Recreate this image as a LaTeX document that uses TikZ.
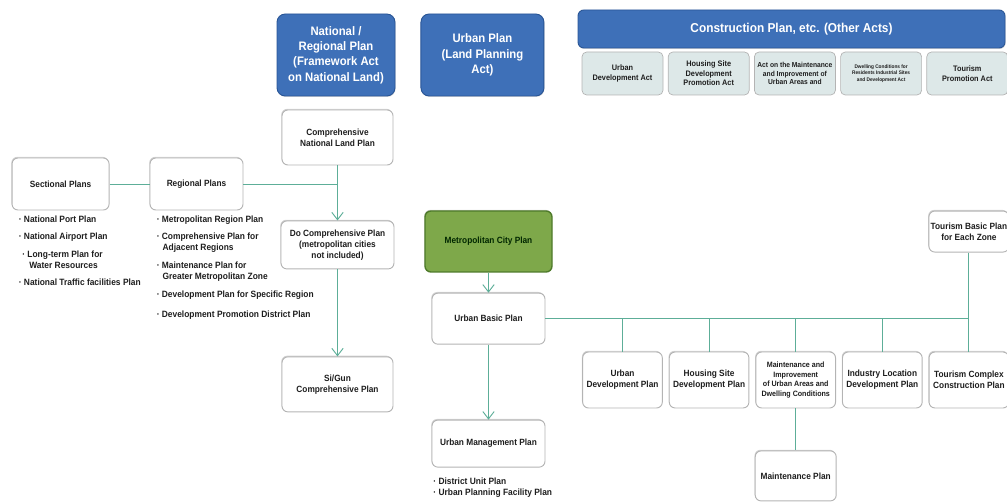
\documentclass[tikz,border=0pt]{standalone}
\usepackage{fontspec}
\setmainfont{Liberation Sans}[FakeStretch=0.92]
\usetikzlibrary{arrows.meta, positioning, shadows, calc}
\definecolor{actblue}{HTML}{3E70B8}
\definecolor{actblueedge}{HTML}{2A5696}
\definecolor{metrogreen}{HTML}{7EA84A}
\definecolor{metroedge}{HTML}{4E7A2A}
\definecolor{linkteal}{HTML}{5DAE98}
\definecolor{boxedge}{HTML}{B4B4B4}
\definecolor{actfill}{HTML}{DDE8E8}
\definecolor{darktext}{HTML}{1E1E1E}

\begin{document}
\begin{tikzpicture}[
    >={Straight Barb[length=2.2mm,width=3.4mm]},
    % --- node styles ---
    lawhead/.style={
        rectangle, rounded corners=7pt, minimum height=2.46cm,
        text centered, align=center, draw=actblueedge, line width=0.8pt,
        fill=actblue, text=white, font=\bfseries\fontsize{10.5}{13}\selectfont,
        drop shadow={shadow xshift=0.5pt, shadow yshift=-0.8pt, opacity=.3}
    },
    actbox/.style={
        rectangle, rounded corners=4pt, minimum width=2.43cm, minimum height=1.29cm,
        text centered, align=center, draw=boxedge, line width=0.6pt,
        fill=actfill, text=darktext, font=\bfseries\fontsize{6.8}{8}\selectfont, inner sep=1pt
    },
    planbox/.style={
        rectangle, rounded corners=5pt, text centered, align=center,
        draw=boxedge, line width=0.8pt, fill=white, text=darktext,
        font=\bfseries\fontsize{7.7}{9.2}\selectfont, inner sep=1pt,
        drop shadow={shadow xshift=-0.6pt, shadow yshift=1pt, opacity=.35}
    },
    rowbox/.style={planbox, minimum width=2.39cm, minimum height=1.68cm},
    itemlist/.style={
        anchor=north west, align=left, inner sep=0pt, text=darktext,
        font=\bfseries\fontsize{7.8}{9.4}\selectfont
    },
    link/.style={draw=linkteal, line width=0.8pt},
    arrow/.style={link, ->},
]
\useasboundingbox (0,0) rectangle (30.21,15.06);

% ===== ACTS =====
\node[lawhead, minimum width=3.54cm] (natreg) at (10.08,13.41)
    {National /\\Regional Plan\\(Framework Act\\on National Land)};
\node[lawhead, minimum width=3.69cm, right=0.75cm of natreg] (urbanplan)
    {Urban Plan\\(Land Planning\\Act)};

\node[lawhead, minimum width=12.81cm, minimum height=1.14cm, rounded corners=5pt,
    font=\bfseries\fontsize{11}{13}\selectfont] (construct) at (23.745,14.19)
    {Construction Plan, etc. (Other Acts)};

\node[actbox] (act1) at (18.675,12.855) {Urban\\Development Act};
\node[actbox, right=0.135cm of act1] (act2) {Housing Site\\Development\\Promotion Act};
\node[actbox, right=0.135cm of act2, font=\bfseries\fontsize{6.2}{7.6}\selectfont] (act3)
    {Act on the Maintenance\\and Improvement of\\Urban Areas and};
\node[actbox, right=0.135cm of act3, font=\bfseries\fontsize{4.4}{5.4}\selectfont] (act4)
    {Dwelling Conditions for\\Residents Industrial Sites\\and Development Act};
\node[actbox, right=0.135cm of act4] (act5) {Tourism\\Promotion Act};

% ===== NATIONAL / REGIONAL =====
\node[planbox, minimum width=3.33cm, minimum height=1.65cm] (compnat) at (10.125,10.935)
    {Comprehensive\\National Land Plan};
\node[planbox, minimum width=3.39cm, minimum height=1.44cm, below=1.65cm of compnat] (docomp)
    {Do Comprehensive Plan\\(metropolitan cities\\not included)};
\node[planbox, minimum width=3.33cm, minimum height=1.65cm, below=2.61cm of docomp] (sigun)
    {Si/Gun\\Comprehensive Plan};

\node[planbox, minimum width=2.79cm, minimum height=1.56cm] (regional) at (5.895,9.54)
    {Regional Plans};
\node[planbox, minimum width=2.91cm, minimum height=1.56cm, left=1.2cm of regional] (sectional)
    {Sectional Plans};

\node[itemlist] (sectlist) at ([xshift=0.21cm, yshift=-0.15cm]sectional.south west)
    {· National Port Plan\\[5.5pt]
     · National Airport Plan\\[5.5pt]
     \hspace{3pt}· Long-term Plan for\\
     \hspace{9pt}Water Resources\\[5.5pt]
     · National Traffic facilities Plan};
\node[itemlist] (reglist) at ([xshift=0.21cm, yshift=-0.15cm]regional.south west)
    {· Metropolitan Region Plan\\[5pt]
     · Comprehensive Plan for\\
     \hspace{5pt}Adjacent Regions\\[6pt]
     · Maintenance Plan for\\
     \hspace{5pt}Greater Metropolitan Zone\\[6pt]
     · Development Plan for Specific Region\\[8pt]
     · Development Promotion District Plan};

\draw[link] (sectional) -- (regional);
\draw[link] (regional.east) -- (regional.east -| compnat.south);
\draw[arrow] (compnat) -- (docomp);
\draw[arrow] (docomp) -- (sigun);

% ===== URBAN =====
\node[planbox, minimum width=3.81cm, minimum height=1.83cm, fill=metrogreen,
    draw=metroedge, line width=1.2pt, text=black!85!green] (metro) at (14.655,7.815)
    {Metropolitan City Plan};
\node[planbox, minimum width=3.39cm, minimum height=1.53cm, below=0.6cm of metro] (urbanbasic)
    {Urban Basic Plan};
\node[planbox, minimum width=3.39cm, minimum height=1.41cm, below=2.25cm of urbanbasic] (urbanmgmt)
    {Urban Management Plan};
\node[itemlist] (mgmtlist) at ([xshift=0.05cm, yshift=-0.3cm]urbanmgmt.south west)
    {· District Unit Plan\\
     · Urban Planning Facility Plan};

\draw[arrow] (metro) -- (urbanbasic);
\draw[arrow] (urbanbasic) -- (urbanmgmt);

% ===== CONSTRUCTION PLANS =====
\node[rowbox] (urbdev) at (18.675,3.66) {Urban\\Development Plan};
\node[rowbox, right=0.18cm of urbdev] (housing) {Housing Site\\Development Plan};
\node[rowbox, right=0.18cm of housing, font=\bfseries\fontsize{6.6}{8.2}\selectfont] (maint)
    {Maintenance and\\Improvement\\of Urban Areas and\\Dwelling Conditions};
\node[rowbox, right=0.18cm of maint] (industry) {Industry Location\\Development Plan};
\node[rowbox, right=0.18cm of industry] (tourcomplex) {Tourism Complex\\Construction Plan};

\node[planbox, minimum width=2.4cm, minimum height=1.23cm, above=2.97cm of tourcomplex] (tourbasic)
    {Tourism Basic Plan\\for Each Zone};
\node[planbox, minimum width=2.43cm, minimum height=1.5cm, below=1.26cm of maint] (mplan)
    {Maintenance Plan};

\draw[link] (urbanbasic.east) -- (urbanbasic.east -| tourbasic.south);
\draw[link] (tourbasic) -- (tourcomplex);
\foreach \plan in {urbdev, housing, maint, industry}
    \draw[link] (urbanbasic.east -| \plan.north) -- (\plan.north);
\draw[link] (maint) -- (mplan);

\end{tikzpicture}
\end{document}
